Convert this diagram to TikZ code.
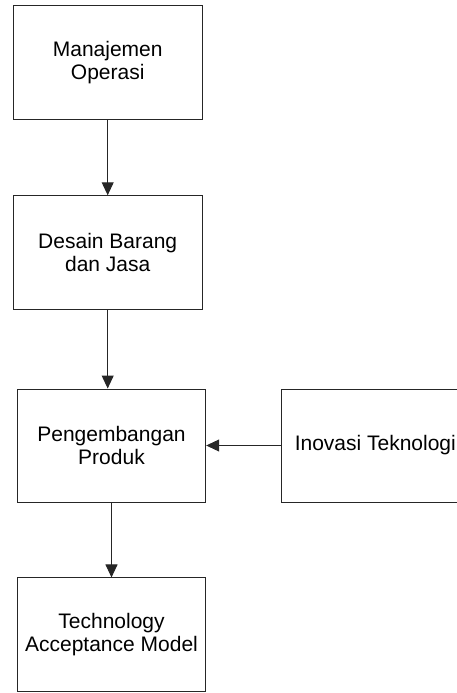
\documentclass[tikz,border=0pt]{standalone}
\usepackage{fontspec}
\setmainfont{Liberation Sans}
\usetikzlibrary{arrows.meta}
\begin{document}
\begin{tikzpicture}[x=1pt,y=-1pt,
  box/.style={draw=black!85,line width=1pt,minimum width=#1,inner sep=0pt,align=center,
    font=\fontsize{21}{23.5}\selectfont},
  conn/.style={draw=black!85,line width=1pt,-{Triangle[width=12pt,length=13pt]}}]
\useasboundingbox (0,0) rectangle (457,693);
\clip (0,0) rectangle (457,693);
\node[box=188.7pt,minimum height=113pt] (m) at (107.7,62.5) {Manajemen\\Operasi};
\node[box=188.7pt,minimum height=113.3pt] (d) at (107.7,252.4) {Desain Barang\\dan Jasa};
\node[box=188.4pt,minimum height=113pt] (p) at (111.5,445.5) {Pengembangan\\Produk};
\node[box=188pt,minimum height=113pt] (i) at (375.3,445.5) {Inovasi Teknologi};
\node[box=188.4pt,minimum height=113.7pt] (t) at (111.5,634.8) {Technology\\Acceptance Model};
\draw[conn] (m) -- (d);
\draw[conn] (d.south) ++(0,0) -- (d.south |- p.north);
\draw[conn] (p) -- (t);
\draw[conn] (i.west) -- (p.east);
\end{tikzpicture}
\end{document}
